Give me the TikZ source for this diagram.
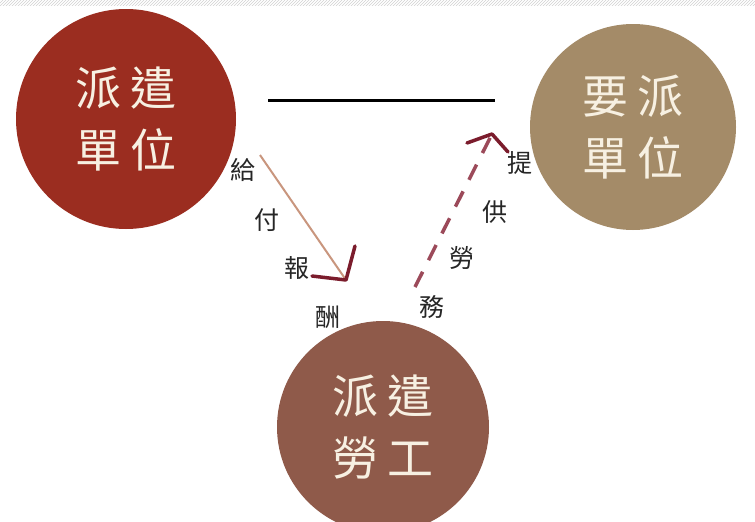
\documentclass[tikz,border=0pt]{standalone}
\usepackage{fontspec}
\newfontfamily\cjk{Noto Sans CJK TC}
\usetikzlibrary{patterns}
\definecolor{redc}{HTML}{9B2D20}
\definecolor{tanc}{HTML}{A48B68}
\definecolor{brownc}{HTML}{8F5A4A}
\definecolor{cream}{HTML}{F7F0E2}
\definecolor{arrowline}{HTML}{C9967E}
\definecolor{headc}{HTML}{7B1C2C}
\definecolor{dashc}{HTML}{9C4A5A}
\begin{document}
\begin{tikzpicture}[x=1pt,y=-1pt,
  unit/.style={circle,inner sep=0pt,text=cream,align=center,
    font=\cjk\fontsize{46}{62}\selectfont},
  lbl/.style={inner sep=0pt,text=black!85,font=\cjk\fontsize{25}{25}\selectfont},
  headstroke/.style={draw=headc,line width=3.5pt,line cap=round,line join=round}]
\useasboundingbox (0,0) rectangle (755,522);
\fill[white] (0,0) rectangle (755,522);
\fill[pattern=north east lines,pattern color=black!18] (0,0) rectangle (755,5);
\begin{scope}
\clip (0,0) rectangle (755,522);
\node[unit,fill=redc,minimum size=220pt] (disp) at (126,119) {派\hspace{10pt}遣\\單\hspace{10pt}位};
\node[unit,fill=tanc,minimum size=206pt] (user) at (633,127) {要\hspace{10pt}派\\單\hspace{10pt}位};
\node[unit,fill=brownc,minimum size=212pt] (work) at (383,427) {派\hspace{10pt}遣\\勞\hspace{10pt}工};
\end{scope}
% relation line
\coordinate (l1) at (268,100);
\coordinate (l2) at (495,100);
\draw[line width=3pt,black] (l1) -- (l2);
% pay arrow
\coordinate (p1) at (260,155);
\coordinate (p2) at (346,280);
\coordinate (pa) at (312,276);
\coordinate (pb) at (355,246);
\draw[arrowline,line width=2pt] (p1) -- (p2);
\draw[headstroke] (pa) -- (p2) -- (pb);
% labour arrow
\coordinate (s1) at (415,287);
\coordinate (s2) at (492,134);
\coordinate (sa) at (467,143);
\coordinate (sb) at (508,152);
\draw[dashc,line width=3.5pt,dash pattern=on 17pt off 13pt] (s1) -- (s2);
\draw[headstroke] (sa) -- (s2) -- (sb);
% labels
\node[lbl] (g1) at (243,170) {給};
\node[lbl] (g2) at (267,220) {付};
\node[lbl] (g3) at (297,268) {報};
\node[lbl] (g4) at (328,317) {酬};
\node[lbl] (t1) at (520,163) {提};
\node[lbl] (t2) at (495,212) {供};
\node[lbl] (t3) at (462,258) {勞};
\node[lbl] (t4) at (432,307) {務};
\end{tikzpicture}
\end{document}
